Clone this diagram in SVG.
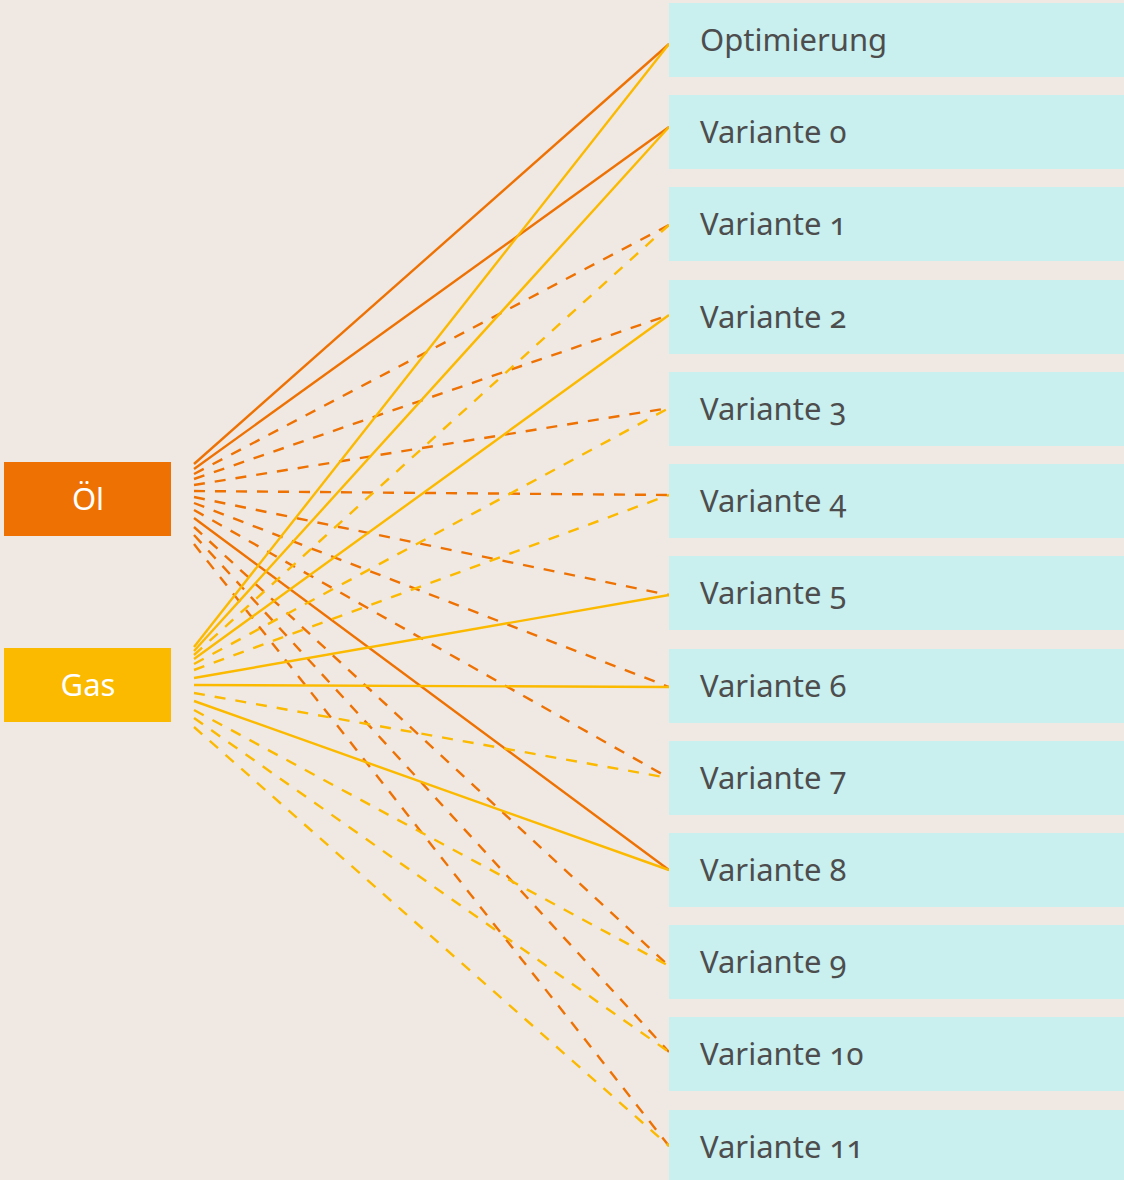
<svg xmlns="http://www.w3.org/2000/svg" width="1124" height="1180" viewBox="0 0 1124 1180">
<style>
.bg{fill:#F0E9E3}
.tgt{fill:#C9EFEF}
.tl{font-family:"Noto Sans","Open Sans","DejaVu Sans",sans-serif;font-size:31px;fill:#4D4D4D;font-variant-numeric:oldstyle-nums}
.src{font-family:"Noto Sans","Open Sans","DejaVu Sans",sans-serif;font-size:31px;fill:#FFFFFF;text-anchor:middle}
.oil{stroke:#EE7203;stroke-width:2.4;fill:none}
.gas{stroke:#FBB900;stroke-width:2.4;fill:none}
.d{stroke-dasharray:11 10}
</style>
<rect class="bg" x="0" y="0" width="1124" height="1180"/>
<g id="connectors">
<line class="oil" x1="194" y1="464" x2="669" y2="44"/>
<line class="oil" x1="194" y1="469" x2="669" y2="127"/>
<line class="oil d" x1="194" y1="474" x2="669" y2="225"/>
<line class="oil d" x1="194" y1="479" x2="669" y2="315"/>
<line class="oil d" x1="194" y1="485" x2="669" y2="408"/>
<line class="oil d" x1="194" y1="491" x2="669" y2="495"/>
<line class="oil d" x1="194" y1="497" x2="669" y2="595"/>
<line class="oil d" x1="194" y1="503" x2="669" y2="687"/>
<line class="oil d" x1="194" y1="510" x2="669" y2="778"/>
<line class="oil" x1="194" y1="518" x2="669" y2="870"/>
<line class="oil d" x1="194" y1="527" x2="669" y2="966"/>
<line class="oil d" x1="194" y1="535" x2="669" y2="1052"/>
<line class="oil d" x1="194" y1="544" x2="669" y2="1146"/>
<line class="gas" x1="194" y1="647" x2="669" y2="44"/>
<line class="gas" x1="194" y1="651" x2="669" y2="127"/>
<line class="gas d" x1="194" y1="655" x2="669" y2="225"/>
<line class="gas" x1="194" y1="659" x2="669" y2="315"/>
<line class="gas d" x1="194" y1="664" x2="669" y2="408"/>
<line class="gas d" x1="194" y1="670" x2="669" y2="495"/>
<line class="gas" x1="194" y1="678" x2="669" y2="595"/>
<line class="gas" x1="194" y1="685" x2="669" y2="687"/>
<line class="gas d" x1="194" y1="693" x2="669" y2="778"/>
<line class="gas" x1="194" y1="701" x2="669" y2="870"/>
<line class="gas d" x1="194" y1="710" x2="669" y2="966"/>
<line class="gas d" x1="194" y1="718" x2="669" y2="1052"/>
<line class="gas d" x1="194" y1="727" x2="669" y2="1146"/>
</g>
<g id="oel"><rect x="4" y="462" width="167" height="74" fill="#EE7203"/><text class="src" x="88" y="510">Öl</text></g>
<g id="gas"><rect x="4" y="648" width="167" height="74" fill="#FBB900"/><text class="src" x="88" y="696">Gas</text></g>
<g id="optimierung"><rect class="tgt" x="669" y="3" width="455" height="74"/><text class="tl" x="700" y="51">Optimierung</text></g>
<g id="v0"><rect class="tgt" x="669" y="95" width="455" height="74"/><text class="tl" x="700" y="143">Variante 0</text></g>
<g id="v1"><rect class="tgt" x="669" y="187" width="455" height="74"/><text class="tl" x="700" y="235">Variante 1</text></g>
<g id="v2"><rect class="tgt" x="669" y="280" width="455" height="74"/><text class="tl" x="700" y="328">Variante 2</text></g>
<g id="v3"><rect class="tgt" x="669" y="372" width="455" height="74"/><text class="tl" x="700" y="420">Variante 3</text></g>
<g id="v4"><rect class="tgt" x="669" y="464" width="455" height="74"/><text class="tl" x="700" y="512">Variante 4</text></g>
<g id="v5"><rect class="tgt" x="669" y="556" width="455" height="74"/><text class="tl" x="700" y="604">Variante 5</text></g>
<g id="v6"><rect class="tgt" x="669" y="649" width="455" height="74"/><text class="tl" x="700" y="697">Variante 6</text></g>
<g id="v7"><rect class="tgt" x="669" y="741" width="455" height="74"/><text class="tl" x="700" y="789">Variante 7</text></g>
<g id="v8"><rect class="tgt" x="669" y="833" width="455" height="74"/><text class="tl" x="700" y="881">Variante 8</text></g>
<g id="v9"><rect class="tgt" x="669" y="925" width="455" height="74"/><text class="tl" x="700" y="973">Variante 9</text></g>
<g id="v10"><rect class="tgt" x="669" y="1017" width="455" height="74"/><text class="tl" x="700" y="1065">Variante 10</text></g>
<g id="v11"><rect class="tgt" x="669" y="1110" width="455" height="74"/><text class="tl" x="700" y="1158">Variante 11</text></g>
</svg>
